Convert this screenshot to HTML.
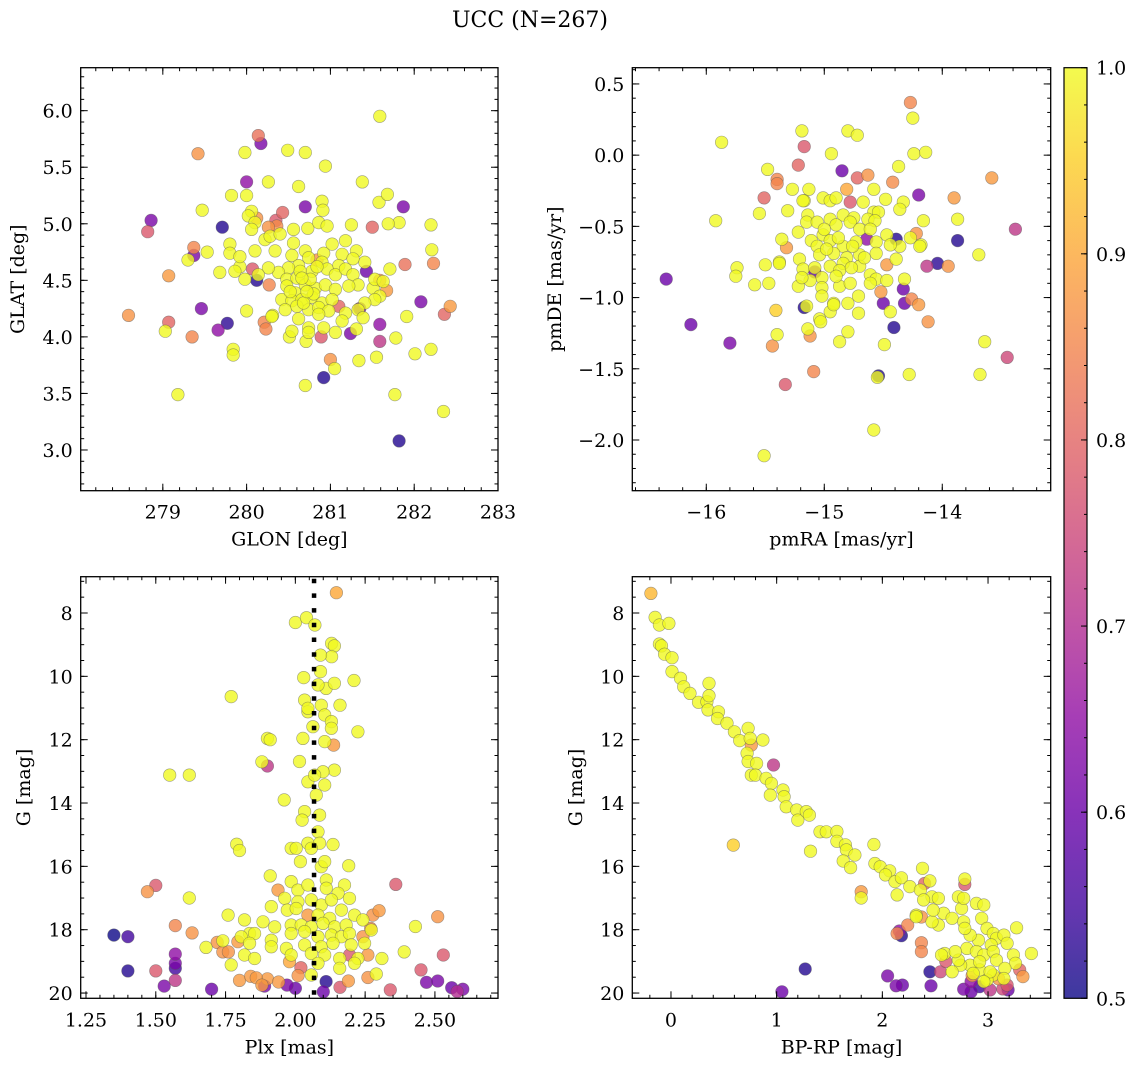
<!DOCTYPE html>
<html><head><meta charset="utf-8"><title>UCC (N=267)</title>
<style>
html,body{margin:0;padding:0;background:#fff;}
svg{display:block;font-family:"DejaVu Serif","Liberation Serif",serif;}
</style></head>
<body>
<svg id="fig" width="1136" height="1067" viewBox="0 0 1136 1067" xmlns="http://www.w3.org/2000/svg">
<text x="530" y="27" font-size="22" text-anchor="middle">UCC (N=267)</text>
</svg>
<script>
// ---- data: [x, y, membership probability] ----
const posData = [
[278.59,4.19,.87],[278.86,5.03,.62],[278.82,4.93,.78],[279.07,4.54,.88],[279.03,4.05,1],[279.07,4.13,.8],[279.18,3.49,1],[279.3,4.68,1],[279.37,4.79,.85],[279.37,4.72,.62],[279.53,4.75,1],[279.35,4.0,.85],[279.42,5.62,.87],[279.47,5.12,1],[279.46,4.25,.62],[279.66,4.06,.65],[279.77,4.12,.53],[279.71,4.97,.52],[279.84,3.89,1],[279.84,3.84,1],[279.68,4.57,1],[279.8,4.82,1],[279.92,4.62,1],[279.98,5.63,1],[280.0,5.37,.65],[279.82,5.25,1],[280.0,5.25,1],[280.14,5.78,.82],[280.17,5.71,.62],[280.26,5.37,1],[280.49,5.65,1],[280.7,5.63,1],[280.94,5.51,1],[280.62,5.33,1],[280.9,5.2,1],[280.91,5.12,1],[280.7,5.15,.62],[280.43,5.1,.8],[280.35,5.03,.78],[280.06,5.11,1],[280.12,5.05,.87],[280.07,4.6,.78],[280.12,4.5,.52],[280.0,4.23,1],[280.21,4.13,.85],[280.23,4.07,.85],[280.27,4.46,.85],[280.31,4.19,1],[280.51,4.0,1],[280.71,3.96,1],[280.7,3.57,1],[280.92,3.64,.52],[281.0,3.8,.87],[281.05,3.72,1],[280.89,4.0,.78],[281.34,3.79,1],[281.55,3.82,1],[281.24,4.03,.62],[281.59,4.11,.65],[281.59,3.96,.72],[281.77,3.49,1],[281.78,3.99,1],[281.82,3.08,.52],[282.01,3.85,1],[282.2,3.89,1],[281.91,4.18,1],[282.08,4.31,.62],[282.36,4.2,.8],[282.43,4.27,.88],[282.35,3.34,1],[282.23,4.65,.85],[282.21,4.77,1],[282.2,4.99,1],[281.89,4.64,.82],[281.82,5.01,1],[281.69,5.0,1],[281.87,5.15,.62],[281.5,4.97,.8],[281.58,5.19,1],[281.68,5.26,1],[281.38,5.37,1],[281.59,5.95,1],[281.25,4.99,1],[281.71,4.6,1],[281.59,4.5,.87],[281.43,4.58,.6],[281.35,4.25,.62],[281.51,4.43,1],[281.67,4.41,.88],
[280.02,5.07,1],[280.1,5.01,1],[280.06,4.95,1],[280.22,4.86,1],[280.28,4.89,1],[280.4,4.91,1],[280.56,4.95,1],[280.73,4.96,1],[280.86,5.01,1],[280.96,4.98,1],[281.02,4.82,1],[281.18,4.85,1],[280.56,4.83,1],[280.1,4.76,1],[280.34,4.76,1],[280.54,4.72,1],[280.7,4.76,1],[280.92,4.74,1],[281.14,4.73,1],[281.31,4.76,1],[281.41,4.66,1],[281.27,4.69,1],[281.1,4.63,1],[280.9,4.66,1],[280.74,4.7,1],[280.62,4.63,1],[280.5,4.61,1],[280.38,4.57,1],[280.26,4.61,1],[280.14,4.55,1],[279.98,4.51,1],[279.86,4.58,1],[279.8,4.74,1],[279.92,4.71,1],[280.48,4.51,1],[280.6,4.52,1],[280.78,4.58,1],[280.96,4.6,1],[281.06,4.55,1],[281.18,4.6,1],[281.27,4.55,1],[281.33,4.46,1],[281.53,4.51,1],[281.63,4.49,1],[281.59,4.36,1],[281.53,4.33,1],[281.41,4.3,1],[280.48,4.45,1],[280.58,4.39,1],[280.7,4.46,1],[280.82,4.43,1],[280.94,4.46,1],[281.06,4.42,1],[281.22,4.45,1],[280.42,4.33,1],[280.54,4.32,1],[280.66,4.33,1],[280.78,4.35,1],[280.9,4.3,1],[281.02,4.33,1],[280.46,4.24,1],[280.6,4.27,1],[280.74,4.24,1],[280.86,4.26,1],[280.98,4.23,1],[281.1,4.27,.8],[281.18,4.21,1],[281.33,4.24,1],[281.39,4.17,1],[281.14,4.14,1],[281.31,4.07,1],[280.92,4.08,1],[280.74,4.08,1],[280.54,4.05,1],[280.3,4.18,1],[280.86,4.2,1],[280.62,4.16,1],[281.06,4.04,1],[280.74,4.04,1],[280.26,4.97,.87],[280.36,4.98,.86],[280.84,4.68,.87],
[280.64,4.58,1],[280.76,4.51,1],[280.84,4.62,1],[280.52,4.4,1],[280.68,4.3,1],[280.8,4.38,1],[280.66,4.52,1],[280.72,4.4,1]
];
const pmData = [
[-16.34,-0.87,.6],[-16.13,-1.19,.6],[-15.8,-1.32,.62],[-15.87,0.09,1],[-15.92,-0.46,1],[-15.74,-0.79,1],[-15.75,-0.85,1],[-15.59,-0.91,1],[-15.55,-0.41,1],[-15.48,-0.1,1],[-15.51,-0.3,.8],[-15.4,-0.17,.85],[-15.4,-0.2,.85],[-15.5,-0.77,1],[-15.47,-0.9,1],[-15.38,-0.75,1],[-15.44,-1.34,.87],[-15.4,-1.26,1],[-15.41,-1.09,.95],[-15.33,-1.61,.78],[-15.51,-2.11,1],[-15.19,0.17,1],[-15.17,0.06,.78],[-15.22,-0.07,.8],[-15.27,-0.24,1],[-15.31,-0.39,1],[-15.13,-0.24,1],[-15.17,-0.32,1],[-15.17,-1.07,.52],[-15.15,-1.06,1],[-15.14,-1.22,1],[-15.12,-1.27,.87],[-15.09,-1.52,.85],[-15.04,-1.15,1],[-15.03,-1.17,1],[-14.95,-1.1,1],[-14.92,-1.04,1],[-14.87,-1.31,1],[-14.8,-1.24,1],[-14.71,-1.11,1],[-14.71,-0.99,1],[-14.94,0.01,1],[-14.85,-0.11,.6],[-14.8,0.17,1],[-14.72,0.14,1],[-14.72,-0.16,.8],[-14.63,-0.14,.87],[-14.58,-0.24,1],[-14.48,-0.31,1],[-14.58,-1.93,1],[-14.54,-1.55,.52],[-14.55,-1.56,1],[-14.49,-1.33,1],[-14.28,-1.54,1],[-14.41,-1.21,.52],[-14.44,-1.1,1],[-14.5,-1.04,.6],[-14.33,-0.94,.6],[-14.32,-1.04,.6],[-14.26,-1.01,.85],[-14.2,-1.05,.88],[-14.12,-1.17,.87],[-14.32,-0.87,1],[-14.52,-0.96,.88],[-14.39,-0.59,.52],[-14.22,-0.55,.87],[-14.18,-0.63,1],[-14.27,0.37,.85],[-14.25,0.26,1],[-14.24,0.01,1],[-14.14,0.02,1],[-14.42,-0.19,.86],[-14.37,-0.08,1],[-14.2,-0.28,.62],[-14.33,-0.33,1],[-14.36,-0.38,1],[-14.16,-0.46,1],[-14.13,-0.78,.72],[-14.04,-0.76,.53],[-13.95,-0.78,.87],[-13.9,-0.3,.88],[-13.87,-0.45,1],[-13.87,-0.6,.52],[-13.69,-0.7,1],[-13.58,-0.16,.88],[-13.38,-0.52,.72],[-13.64,-1.31,1],[-13.45,-1.42,.75],[-13.68,-1.54,1],[-15.08,-0.82,.6],[-14.64,-0.59,.65],[-14.78,-0.33,.78],
[-15.18,-0.32,1],[-15.01,-0.3,1],[-14.95,-0.32,1],[-14.9,-0.3,1],[-14.81,-0.24,.9],[-14.67,-0.33,1],[-14.58,-0.4,1],[-14.54,-0.4,1],[-15.14,-0.42,1],[-15.15,-0.47,1],[-15.06,-0.47,1],[-14.95,-0.45,1],[-14.84,-0.42,1],[-14.75,-0.44,1],[-14.63,-0.45,1],[-14.57,-0.46,1],[-15.22,-0.54,1],[-15.36,-0.59,1],[-15.32,-0.65,.88],[-15.11,-0.6,1],[-15.01,-0.56,1],[-14.9,-0.49,1],[-14.78,-0.47,1],[-14.7,-0.52,1],[-14.61,-0.52,1],[-14.47,-0.56,1],[-14.36,-0.64,1],[-15.06,-0.64,1],[-14.95,-0.6,1],[-14.84,-0.64,1],[-14.73,-0.61,1],[-14.56,-0.61,1],[-14.44,-0.63,1],[-14.27,-0.58,1],[-14.19,-0.64,1],[-15.21,-0.73,1],[-15.04,-0.7,1],[-14.92,-0.69,1],[-14.81,-0.72,1],[-14.7,-0.7,1],[-14.56,-0.69,1],[-14.39,-0.73,1],[-14.47,-0.77,.88],[-15.38,-0.76,1],[-15.18,-0.8,1],[-15.08,-0.79,1],[-14.95,-0.78,1],[-14.84,-0.76,1],[-14.7,-0.78,1],[-14.61,-0.84,1],[-15.02,-0.86,1],[-14.87,-0.81,1],[-14.77,-0.79,1],[-14.56,-0.87,1],[-15.22,-0.92,1],[-15.12,-0.88,1],[-15.02,-0.93,1],[-14.87,-0.92,1],[-14.78,-0.9,1],[-15.02,-0.99,1],[-14.61,-0.9,1],[-14.47,-0.88,1],[-15.19,-0.86,1],[-14.8,-1.04,1],[-14.92,-1.05,1],
[-14.98,-0.66,1],[-14.88,-0.58,1],[-14.76,-0.64,1],[-14.66,-0.72,1],[-14.9,-0.85,1],[-15.0,-0.52,1]
];
const plxData = [
[2.147,7.36,.9],[2.0,8.3,1],[2.04,8.15,1],[2.07,8.38,1],[2.13,8.96,1],[2.14,9.04,1],[2.13,9.38,1],[2.09,9.33,1],[2.03,10.04,1],[2.09,9.85,1],[2.11,10.38,1],[2.14,10.22,1],[2.21,10.13,1],[1.77,10.64,1],[1.9,11.96,1],[1.91,12.0,1],[1.88,12.7,1],[1.9,12.83,.72],[1.55,13.12,1],[1.62,13.12,1],[1.96,13.9,1],[1.79,15.3,1],[1.8,15.5,1],[1.91,16.3,1],[1.5,16.6,.78],[1.47,16.8,.87],[2.36,16.57,.78],[1.62,17.0,1],[1.35,18.17,.5],[1.4,18.22,.55],[1.57,17.87,.85],[1.63,18.1,.87],[2.51,17.59,.87],[2.43,17.9,1],[2.39,18.7,1],[2.53,18.8,.78],[1.4,19.3,.52],[1.5,19.3,.78],[1.57,18.77,.65],[1.57,19.06,.62],[1.57,19.22,.55],[1.57,19.6,.72],[1.53,19.78,.62],[1.7,19.88,.6],[2.45,19.27,.78],[2.47,19.66,.62],[2.51,19.62,.62],[2.56,19.83,.6],[2.6,19.88,.62],[2.58,19.95,.7],[2.34,19.9,.78],[2.16,19.82,.78],[2.19,19.62,.88],[2.1,19.96,.6],[2.11,19.64,.52],[1.97,19.75,.62],[1.89,19.78,.62],[2.0,19.85,.6],[2.02,19.2,.8],[2.01,19.45,.87],[1.8,19.6,.88],[1.84,19.47,.88],[1.9,19.55,.88],[1.94,19.65,.88],[1.86,19.52,.88],[1.88,19.75,.88],[1.72,18.4,.87],[1.74,18.7,.87],[1.76,18.7,.87],[1.68,18.56,1],[1.74,18.35,1],[1.77,19.11,1],[2.29,19.4,1],[2.31,18.91,1],[2.26,19.51,.87],[2.27,17.96,.85],[2.3,17.4,.88],
[2.033,10.75,1],[2.093,10.91,1],[2.16,10.91,1],[2.045,11.12,1],[2.105,11.22,1],[2.129,11.43,1],[2.063,11.59,1],[2.129,11.64,1],[2.224,11.75,1],[2.027,11.96,1],[2.105,12.06,1],[2.137,12.17,.88],[2.015,12.69,1],[2.14,12.96,1],[2.099,13.01,1],[2.045,13.33,1],[2.105,13.43,1],[2.075,13.75,1],[2.033,14.27,1],[2.024,14.54,1],[2.087,14.38,1],[2.081,14.91,1],[2.045,15.27,1],[1.985,15.43,1],[2.003,15.43,1],[2.087,15.27,1],[2.135,15.31,1],[2.018,15.85,1],[2.093,16.01,1],[2.191,15.98,1],[2.105,15.85,1],[2.057,15.43,1],[2.069,13.12,1],[2.081,10.27,1],[2.045,11.01,1],
[1.985,16.48,1],[2.009,16.75,1],[2.045,16.59,1],[2.111,16.43,1],[2.111,16.69,1],[2.176,16.59,1],[2.153,16.85,1],[2.194,17.01,1],[1.938,16.75,.88],[1.914,17.27,1],[1.962,17.01,1],[2.009,17.12,1],[2.057,17.06,1],[2.093,17.22,1],[2.129,17.06,1],[2.165,17.38,1],[1.971,17.38,1],[2.003,17.33,1],[2.081,17.54,1],[2.045,17.54,.88],[2.123,17.64,1],[2.212,17.54,1],[2.242,17.69,1],[2.278,17.54,.87],[1.759,17.54,1],[1.818,17.69,1],[1.884,17.75,1],[1.926,17.91,1],[1.985,17.85,1],[2.021,17.85,1],[2.057,17.91,1],[2.099,17.8,1],[2.141,17.91,1],[2.182,17.85,1],[2.272,18.01,1],[1.836,18.12,1],[1.854,18.12,1],[1.806,18.22,1],[1.985,18.12,1],[2.033,18.06,1],[2.081,18.22,1],[2.129,18.17,1],[2.165,18.22,1],[2.194,18.12,1],[2.242,18.22,.87],[1.914,18.33,1],[1.794,18.38,.88],[1.836,18.43,1],[1.914,18.54,1],[1.968,18.59,1],[2.033,18.48,1],[2.093,18.54,1],[2.135,18.43,1],[2.2,18.48,1],[2.248,18.43,1],[1.818,18.8,1],[1.854,18.91,1],[1.985,18.8,1],[2.057,18.75,1],[2.105,18.8,1],[2.159,18.91,1],[2.194,18.8,.78],[2.224,18.91,1],[2.26,18.8,.88],[1.979,19.01,.9],[2.159,19.22,1],[2.212,19.06,1],[2.081,19.06,1],[2.057,19.43,1]
];
const cmdData = [
[-0.19,7.38,.92],[-0.15,8.14,1],[-0.11,8.38,1],[-0.02,8.33,1],[-0.11,8.98,1],[-0.09,9.04,1],[-0.06,9.3,1],[0.01,9.41,1],[0.01,9.85,1],[0.09,10.06,1],[0.12,10.33,1],[0.18,10.54,1],[0.26,10.82,1],[0.34,10.8,1],[0.36,10.22,1],[0.36,10.61,1],[0.35,11.06,1],[0.45,11.12,1],[0.44,11.33,1],[0.53,11.48,1],[0.6,11.75,1],[0.65,12.03,1],[0.73,11.64,1],[0.75,11.96,1],[0.87,12.01,1],[0.76,12.17,.88],[0.72,12.43,1],[0.73,12.69,1],[0.81,12.75,1],[0.76,13.12,1],[0.8,13.12,1],[0.9,13.22,1],[0.95,13.38,1],[0.94,13.75,1],[1.06,13.59,1],[1.07,13.8,1],[1.09,14.12,1],[1.19,14.22,1],[1.2,14.54,1],[1.28,14.27,1],[1.31,14.38,1],[0.97,12.8,.72],[0.59,15.33,.95],[1.32,15.52,1],
[1.41,14.91,1],[1.47,14.91,1],[1.57,14.9,1],[1.57,15.21,1],[1.65,15.32,1],[1.66,15.48,1],[1.74,15.64,1],[1.63,15.83,1],[1.7,16.04,1],[1.92,15.31,1],[1.93,15.91,1],[1.98,16.01,1],[2.07,16.14,1],[2.03,16.27,1],[2.12,16.48,1],[2.18,16.36,1],[2.26,16.64,1],[2.36,16.75,1],[2.38,16.06,1],[2.45,16.46,1],[2.47,16.96,1],[2.53,17.01,1],[2.39,17.06,1],[2.14,16.9,1],[1.8,16.8,.88],[1.8,17.0,1],[2.4,16.54,.8],[2.78,16.4,1],[2.78,16.57,.78],[3.27,17.94,1],[3.41,18.75,1],
[2.16,18.04,.65],[2.18,18.19,.52],[2.14,18.12,.85],[2.24,17.85,.85],[2.32,17.54,1],[2.37,17.6,.87],[2.37,18.41,.85],[2.37,18.69,.85],[2.45,19.33,.52],[2.55,19.33,.75],[2.46,19.77,.6],[2.05,19.46,.62],[2.13,19.77,.62],[2.19,19.75,.6],[1.27,19.24,.52],[1.05,19.96,.6],[2.77,19.88,.62],[2.84,19.96,.6],[2.84,19.64,.65],[3.02,19.9,.72],[3.14,19.87,.75],[3.19,19.9,.6],[3.3,19.27,.8],[3.18,19.75,.78],[2.92,19.8,.55],[2.6,19.0,.78],[3.33,19.48,.88],[2.85,19.45,.87],[3.1,19.55,.87],
[2.58,17.48,1],[2.66,17.64,1],[2.72,16.96,1],[2.75,17.33,1],[2.77,17.75,1],[2.89,17.17,1],[2.96,17.22,1],[2.94,17.64,1],[2.99,17.96,1],[3.05,18.12,1],[3.08,18.27,1],[3.15,18.17,1],[3.18,18.43,1],[3.03,18.48,1],[2.91,18.33,1],[2.83,18.17,1],[2.78,17.96,1],[2.8,18.59,1],[2.89,18.69,1],[2.96,18.8,1],[3.05,18.69,1],[3.08,18.96,1],[3.24,18.8,1],[3.26,19.06,1],[3.16,19.22,1],[3.05,19.43,1],[2.99,19.59,1],[2.92,19.27,1],[2.83,19.12,1],[2.74,19.12,1],[2.66,19.33,1],[2.59,18.75,1],[2.56,18.8,1],[2.53,17.85,1],[2.47,17.75,1],[2.32,17.59,1],[2.48,17.38,1],[2.77,17.01,1],[2.92,19.01,1],[3.02,19.33,1],[3.15,19.54,1],[2.96,19.64,1],[2.86,19.38,1],[2.72,18.96,1],[2.69,18.69,1]
];
const meanPlx = 2.067;
const cbarTicks = [0.5,0.6,0.7,0.8,0.9,1.0];

const SVGNS="http://www.w3.org/2000/svg";
const svg=document.getElementById('fig');
const FS=19;
function mk(tag,attrs,parent){const e=document.createElementNS(SVGNS,tag);for(const k in attrs)e.setAttribute(k,attrs[k]);(parent||svg).appendChild(e);return e;}
const stops=[[13,8,135],[65,4,157],[106,0,168],[143,13,164],[177,42,144],[204,71,120],[225,100,98],[242,132,75],[252,166,54],[252,206,37],[240,249,33]];
function plasma(p){let t=(p-0.5)/0.5;t=Math.max(0,Math.min(1,t))*10;const i=Math.min(9,Math.floor(t)),f=t-i;const a=stops[i],b=stops[i+1];return `rgb(${a.map((v,k)=>Math.round(v+(b[k]-v)*f)).join(',')})`;}
function fmt(v,d){let s=v.toFixed(d);if(s.startsWith('-'))s='\u2212'+s.slice(1);return s;}

function panel(cfg){
  const g=mk('g',{});
  
  
  const {x0,x1,y0,y1,xd,yd}=cfg;
  const sx=v=>x0+(v-xd[0])/(xd[1]-xd[0])*(x1-x0);
  const sy=v=>cfg.yinv? y0+(v-yd[0])/(yd[1]-yd[0])*(y1-y0) : y1-(v-yd[0])/(yd[1]-yd[0])*(y1-y0);
  const clip='clip-'+cfg.name;
  const cp=mk('clipPath',{id:clip},g);mk('rect',{x:x0,y:y0,width:x1-x0,height:y1-y0},cp);
  const pg=mk('g',{'clip-path':`url(#${clip})`},g);
  
  
  const pts=cfg.data.slice().sort((a,b)=>a[2]-b[2]);
  for(const d of pts){
    const c=mk('circle',{cx:sx(d[0]).toFixed(1),cy:sy(d[1]).toFixed(1),r:6.3,fill:plasma(d[2]),'fill-opacity':0.8,stroke:'#555','stroke-opacity':0.55,'stroke-width':0.6},pg);
    
    
  }
  if(cfg.vline!==undefined){
    const l=mk('line',{x1:sx(cfg.vline),x2:sx(cfg.vline),y1:y0+2,y2:y1,stroke:'#000','stroke-width':4.5,'stroke-dasharray':'4.5 10.2'},pg);
    
    
  }
  const tg=mk('g',{stroke:'#000','stroke-width':1},g);
  function ticksX(step,len,lab,dec){
    const s=Math.ceil(xd[0]/step-1e-6);
    for(let i=s;i*step<=xd[1]+1e-6;i++){const v=i*step,x=sx(v);
      mk('line',{x1:x,x2:x,y1:y1,y2:y1-len},tg);mk('line',{x1:x,x2:x,y1:y0,y2:y0+len},tg);
      if(lab){const t=mk('text',{x:x,y:y1+28,'font-size':FS,'text-anchor':'middle',stroke:'none'},g);t.textContent=fmt(v,dec);
        }}
  }
  function ticksY(step,len,lab,dec){
    const s=Math.ceil(yd[0]/step-1e-6);
    for(let i=s;i*step<=yd[1]+1e-6;i++){const v=i*step,y=sy(v);
      mk('line',{x1:x0,x2:x0+len,y1:y,y2:y},tg);mk('line',{x1:x1,x2:x1-len,y1:y,y2:y},tg);
      if(lab){const t=mk('text',{x:x0-8,y:y+7,'font-size':FS,'text-anchor':'end',stroke:'none'},g);t.textContent=fmt(v,dec);
        }}
  }
  ticksX(cfg.xminor,3.5,false);ticksX(cfg.xmajor,7,true,cfg.xdec);
  ticksY(cfg.yminor,3.5,false);ticksY(cfg.ymajor,7,true,cfg.ydec);
  mk('rect',{x:x0,y:y0,width:x1-x0,height:y1-y0,fill:'none',stroke:'#000','stroke-width':1.3},g);
  const xl=mk('text',{x:(x0+x1)/2,y:y1+55,'font-size':FS,'text-anchor':'middle'},g);xl.textContent=cfg.xlabel;
  
  const yx=cfg.ylx, yy=(y0+y1)/2;
  const yl=mk('text',{x:yx,y:yy,'font-size':FS,'text-anchor':'middle',transform:`rotate(-90 ${yx} ${yy})`},g);yl.textContent=cfg.ylabel;
  
}

panel({name:'glon-glat-panel',data:posData,x0:80.7,x1:498,y0:67.7,y1:490.7,xd:[278.02,283.0],yd:[2.64,6.38],xmajor:1,xminor:0.2,xdec:0,ymajor:0.5,yminor:0.1,ydec:1,xlabel:'GLON [deg]',ylabel:'GLAT [deg]',ylx:24});
panel({name:'pm-panel',data:pmData,x0:632.3,x1:1050.7,y0:67.7,y1:490.7,xd:[-16.627,-13.081],yd:[-2.356,0.614],xmajor:1,xminor:0.2,xdec:0,ymajor:0.5,yminor:0.1,ydec:1,xlabel:'pmRA [mas/yr]',ylabel:'pmDE [mas/yr]',ylx:561});
panel({name:'plx-g-panel',data:plxData,x0:80.7,x1:498,y0:576.7,y1:998.3,xd:[1.231,2.726],yd:[6.854,20.166],yinv:true,xmajor:0.25,xminor:0.05,xdec:2,ymajor:2,yminor:0.5,ydec:0,xlabel:'Plx [mas]',ylabel:'G [mag]',ylx:30,vline:meanPlx});
panel({name:'cmd-panel',data:cmdData,x0:632.3,x1:1050.7,y0:576.7,y1:998.3,xd:[-0.366,3.593],yd:[6.854,20.166],yinv:true,xmajor:1,xminor:0.2,xdec:0,ymajor:2,yminor:0.5,ydec:0,xlabel:'BP-RP [mag]',ylabel:'G [mag]',ylx:582});

(function(){
  const cx0=1064,cx1=1087,cy0=67.7,cy1=998.3;
  const g=mk('g',{});
  
  
  const defs=mk('defs',{},g);
  const lg=mk('linearGradient',{id:'cbg',x1:0,y1:1,x2:0,y2:0},defs);
  for(let i=0;i<=20;i++){mk('stop',{offset:i/20,'stop-color':plasma(0.5+0.5*i/20)},lg);}
  mk('rect',{x:cx0,y:cy0,width:cx1-cx0,height:cy1-cy0,fill:'url(#cbg)','fill-opacity':0.8},g);
  mk('rect',{x:cx0,y:cy0,width:cx1-cx0,height:cy1-cy0,fill:'none',stroke:'#000','stroke-width':1.2},g);
  const sy=v=>cy1-(v-0.5)/0.5*(cy1-cy0);
  for(let i=0;i<=25;i++){const v=0.5+i*0.02,y=sy(v);mk('line',{x1:cx1,x2:cx1-3,y1:y,y2:y,stroke:'#000'},g);}
  for(const v of cbarTicks){const y=sy(v);mk('line',{x1:cx1,x2:cx1-6,y1:y,y2:y,stroke:'#000'},g);
    const t=mk('text',{x:cx1+9,y:y+7,'font-size':FS},g);t.textContent=v.toFixed(1);
    }
})();
</script>
</body></html>
